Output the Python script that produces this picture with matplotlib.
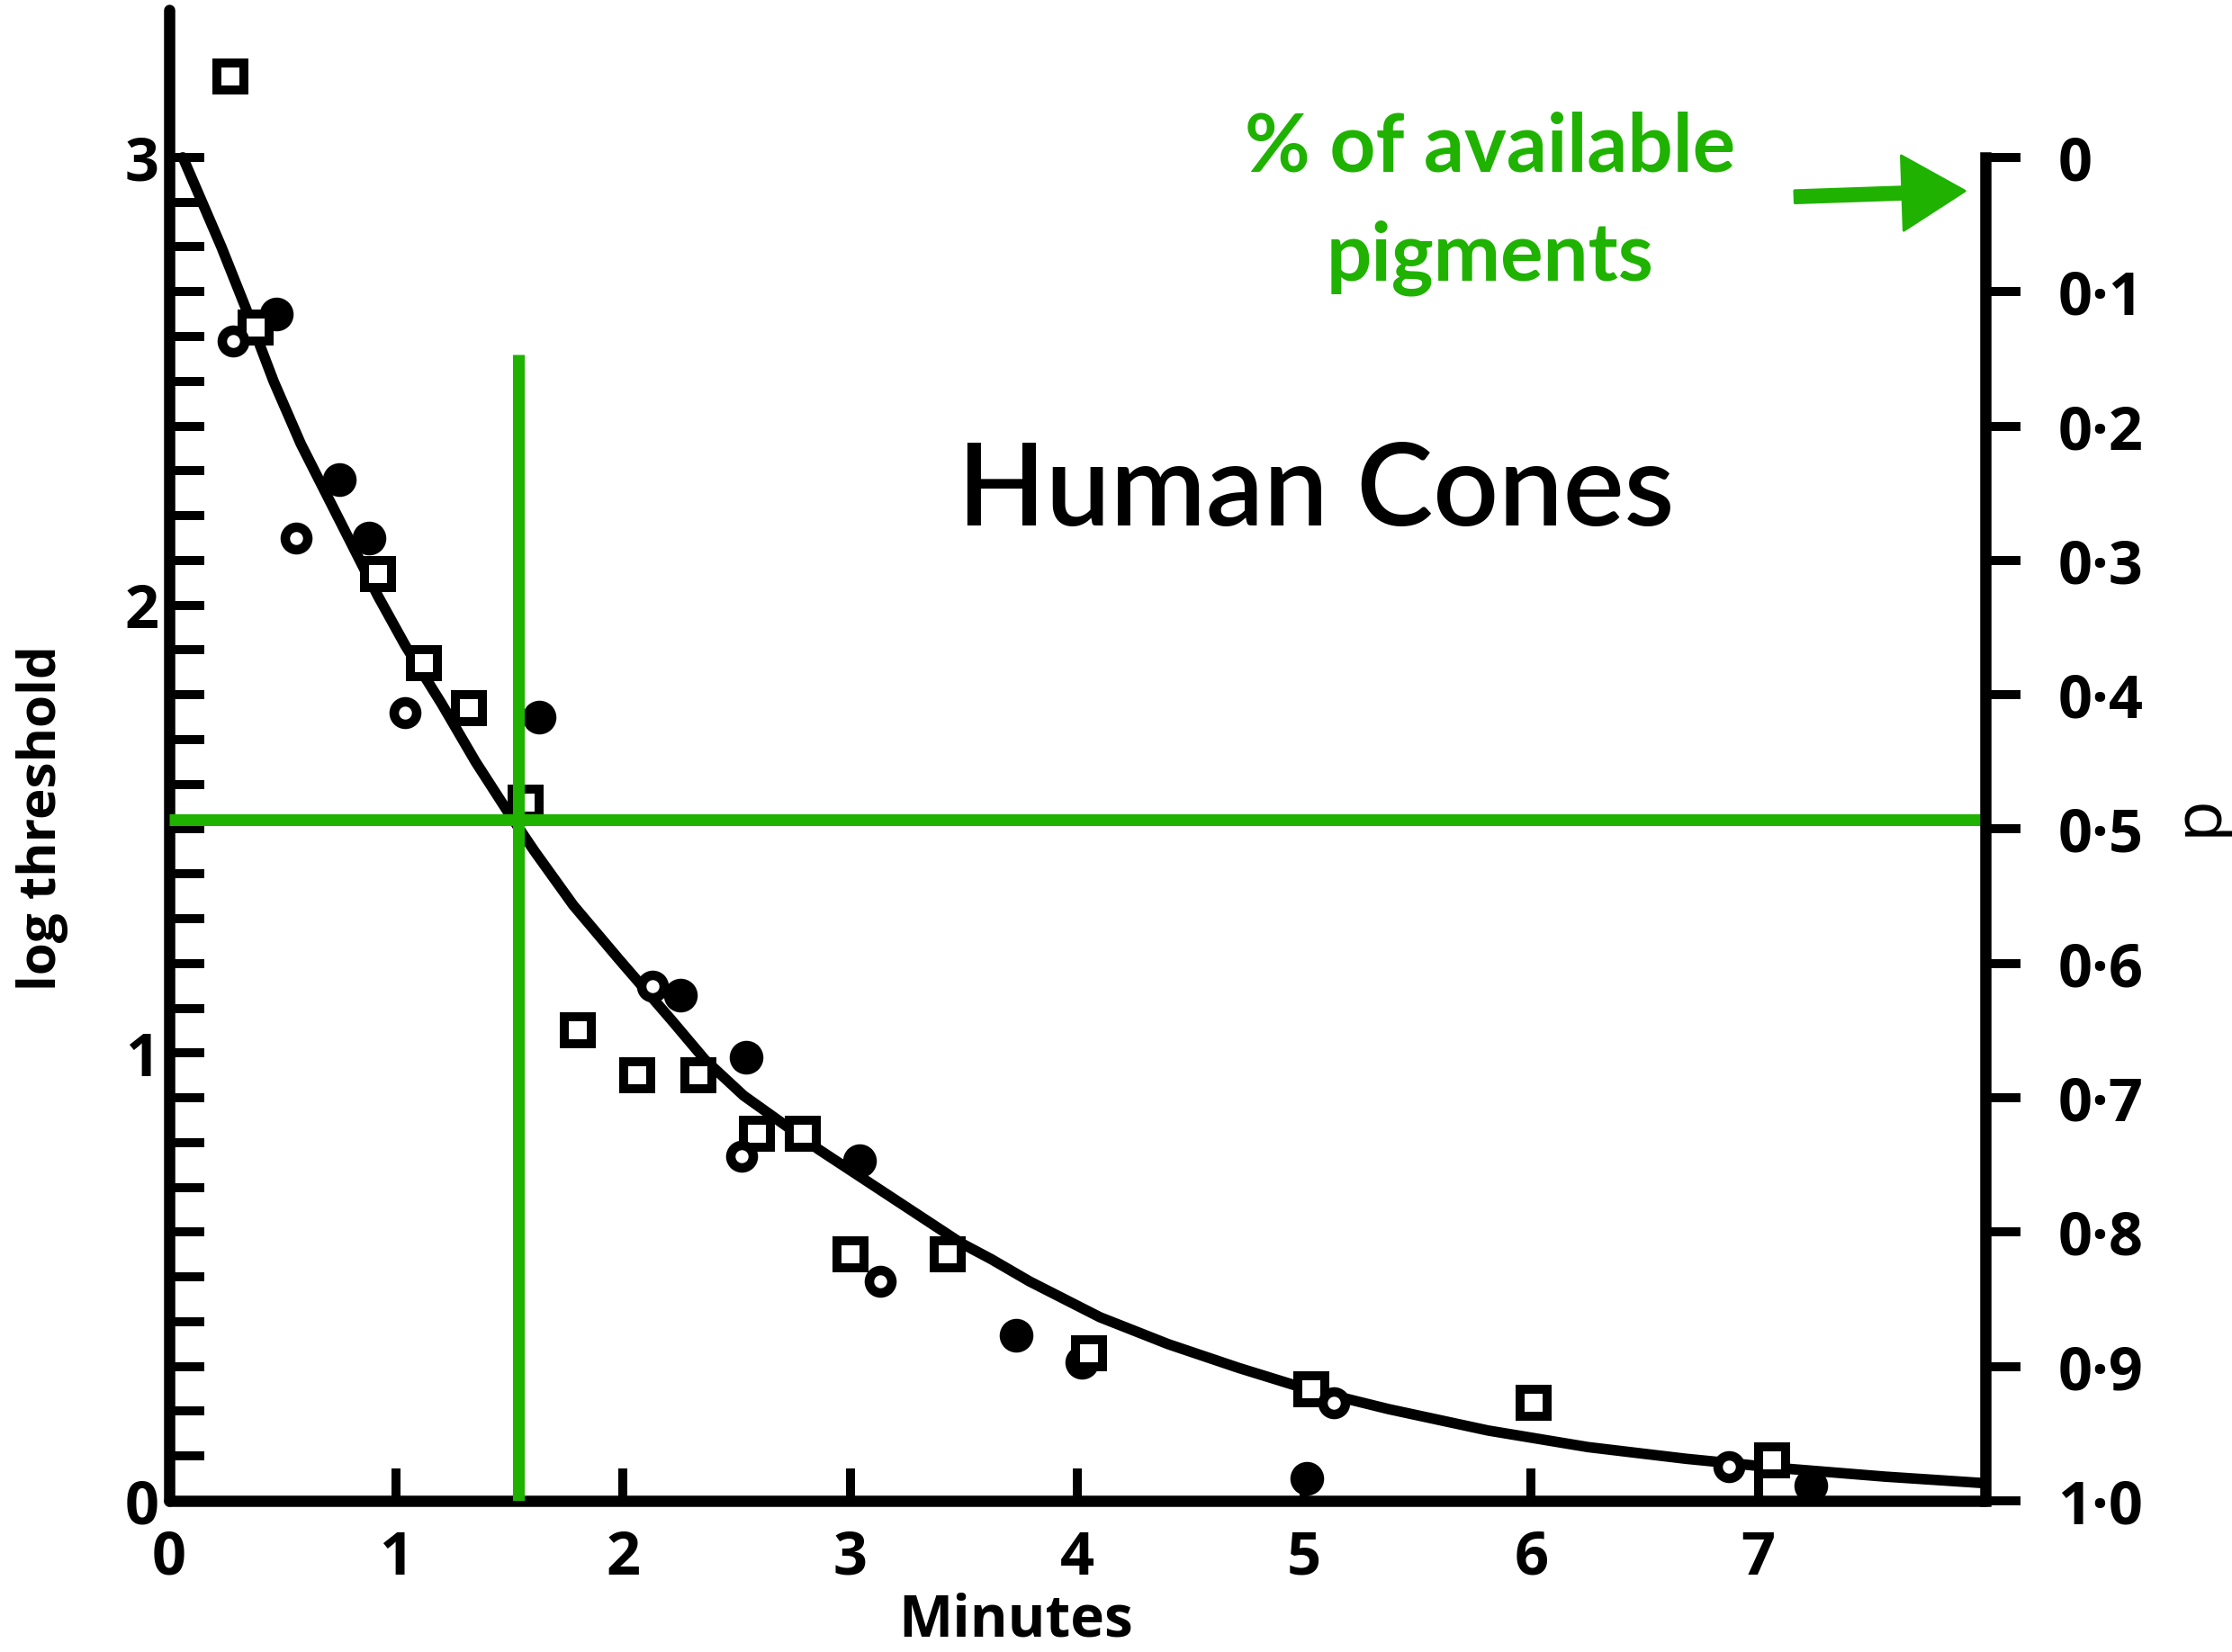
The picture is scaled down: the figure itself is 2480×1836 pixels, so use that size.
import numpy as np
import matplotlib
matplotlib.use('Agg')
import matplotlib.pyplot as plt
from matplotlib.ticker import FixedLocator

GREEN = '#1fb200'

# log threshold (left) against minutes in the dark
square_t = [0.27, 0.38, 0.92, 1.12, 1.32, 1.57, 1.80, 2.06, 2.33, 2.59, 2.79,
            3.00, 3.43, 4.05, 5.03, 6.01, 7.06]
square_y = [3.18, 2.62, 2.07, 1.87, 1.77, 1.56, 1.05, 0.95, 0.95, 0.82, 0.82,
            0.55, 0.55, 0.33, 0.25, 0.22, 0.09]

open_t = [0.28, 0.56, 1.04, 2.13, 2.52, 3.13, 5.13, 6.87]
open_y = [2.59, 2.15, 1.76, 1.15, 0.77, 0.49, 0.22, 0.076]

filled_t = [0.47, 0.75, 0.88, 1.63, 2.25, 2.54, 3.04, 3.73, 4.02, 5.01, 7.23]
filled_y = [2.65, 2.28, 2.15, 1.75, 1.13, 0.99, 0.76, 0.37, 0.31, 0.05, 0.035]

curve_t = [0.06, 0.23, 0.34, 0.46, 0.58, 0.68, 0.79, 0.92, 1.04, 1.20, 1.35,
           1.49, 1.61, 1.78, 1.98, 2.21, 2.36, 2.53, 2.71, 2.86, 3.01, 3.19,
           3.49, 3.62, 3.79, 4.10, 4.40, 4.71, 5.01, 5.37, 5.81, 6.25, 6.68,
           7.12, 7.56, 7.98]
curve_y = [3.00, 2.80, 2.66, 2.50, 2.36, 2.26, 2.15, 2.02, 1.91, 1.78, 1.65,
           1.54, 1.45, 1.33, 1.21, 1.075, 0.985, 0.905, 0.84, 0.785, 0.735,
           0.675, 0.575, 0.54, 0.49, 0.41, 0.35, 0.297, 0.25, 0.205, 0.157,
           0.12, 0.094, 0.072, 0.054, 0.04]

# half-bleached guide lines
half_t = 1.54
half_y = 1.52
half_top = 2.56

x_ticks = [0, 1, 2, 3, 4, 5, 6, 7]
x_labels = ['0', '1', '2', '3', '4', '5', '6', '7']
y_ticks = [0, 1, 2, 3]
y_labels = ['0', '1', '2', '3']
p_ticks = [0.0, 0.1, 0.2, 0.3, 0.4, 0.5, 0.6, 0.7, 0.8, 0.9, 1.0]
p_labels = ['0', '0·1', '0·2', '0·3', '0·4', '0·5', '0·6', '0·7', '0·8',
            '0·9', '1·0']

X_MAX = 8.0
Y_TOP = 3.33
LOG_MAX = 3.0

plt.rcParams['font.family'] = ['Open Sans', 'DejaVu Sans']

fig = plt.figure(figsize=(12.4, 9.18), dpi=200)
ax = fig.add_axes([0.0758, 0.0915, 0.8137, 0.9027])
ax.set_xlim(0, X_MAX)
ax.set_ylim(0, Y_TOP)

for side in ['top', 'right']:
    ax.spines[side].set_visible(False)
for side in ['left', 'bottom']:
    ax.spines[side].set_linewidth(4.5)
    ax.spines[side].set_capstyle('round')

ax.plot(curve_t, curve_y, color='black', lw=4.2, solid_joinstyle='round',
        solid_capstyle='round', zorder=3)
ax.plot(filled_t, filled_y, ls='none', marker='o', ms=12.5, mfc='black',
        mec='black', mew=1, zorder=5)
ax.plot(square_t, square_y, ls='none', marker='s', ms=10.5, mfc='white',
        mec='black', mew=3.6, zorder=5)
ax.plot(open_t, open_y, ls='none', marker='o', ms=9.0, mfc='white',
        mec='black', mew=3.8, zorder=5)

ax.vlines(half_t, 0, half_top, color=GREEN, lw=4.7, zorder=6)
ax.hlines(half_y, 0, X_MAX, color=GREEN, lw=4.7, zorder=6)

ax.set_xticks(x_ticks)
ax.set_xticklabels(x_labels, fontweight='bold')
ax.set_yticks(y_ticks)
ax.set_yticklabels(y_labels, fontweight='bold')
ax.yaxis.set_minor_locator(FixedLocator(np.round(np.arange(0.1, 3.0, 0.1), 1)))
ax.tick_params(axis='x', direction='in', length=13, width=3.6, pad=11,
               labelsize=24)
ax.tick_params(axis='y', which='both', direction='in', length=14, width=3.6,
               pad=4, labelsize=24)

ax.set_xlabel('Minutes', fontsize=23, fontweight='bold')
ax.xaxis.set_label_coords(0.466, -0.081)
ax.xaxis.label.set_va('center')
ax.set_ylabel('log threshold', fontsize=21, fontweight='bold')
ax.yaxis.set_label_coords(-0.070, 0.458)
ax.yaxis.label.set_va('center')

# fraction of pigment bleached, running downwards on the right
ax2 = ax.twinx()
ax2.set_ylim(1.0, 1.0 - Y_TOP / LOG_MAX)
for side in ['top', 'left', 'bottom']:
    ax2.spines[side].set_visible(False)
ax2.spines['right'].set_linewidth(4.5)
ax2.spines['right'].set_bounds(0.0, 1.0)
ax2.set_yticks(p_ticks)
ax2.set_yticklabels(p_labels, fontweight='bold')
ax2.tick_params(axis='y', direction='out', length=14, width=3.6, pad=15,
                labelsize=24)
ax2.set_ylabel('p', fontsize=27, rotation=90)
ax2.yaxis.set_label_coords(1.1175, 0.46)
ax2.yaxis.label.set_va('center')

ax.text(5.05, 2.25, 'Human Cones', ha='center', va='center', fontsize=46,
        family='Lato', fontweight='semibold', color='black')
ax.text(5.82, 3.02, '% of available', ha='center', va='center', fontsize=32,
        family='Lato', fontweight='bold', color=GREEN)
ax.text(5.82, 2.775, 'pigments', ha='center', va='center', fontsize=32,
        family='Lato', fontweight='bold', color=GREEN)
ax.annotate('', xy=(7.91, 2.925), xytext=(7.16, 2.912),
            arrowprops=dict(arrowstyle='simple,head_length=1.25,head_width=1.5,tail_width=0.25',
                            color=GREEN, mutation_scale=20, shrinkA=0, shrinkB=0),
            annotation_clip=False)

fig.savefig('out.png', dpi=200, facecolor='white')
